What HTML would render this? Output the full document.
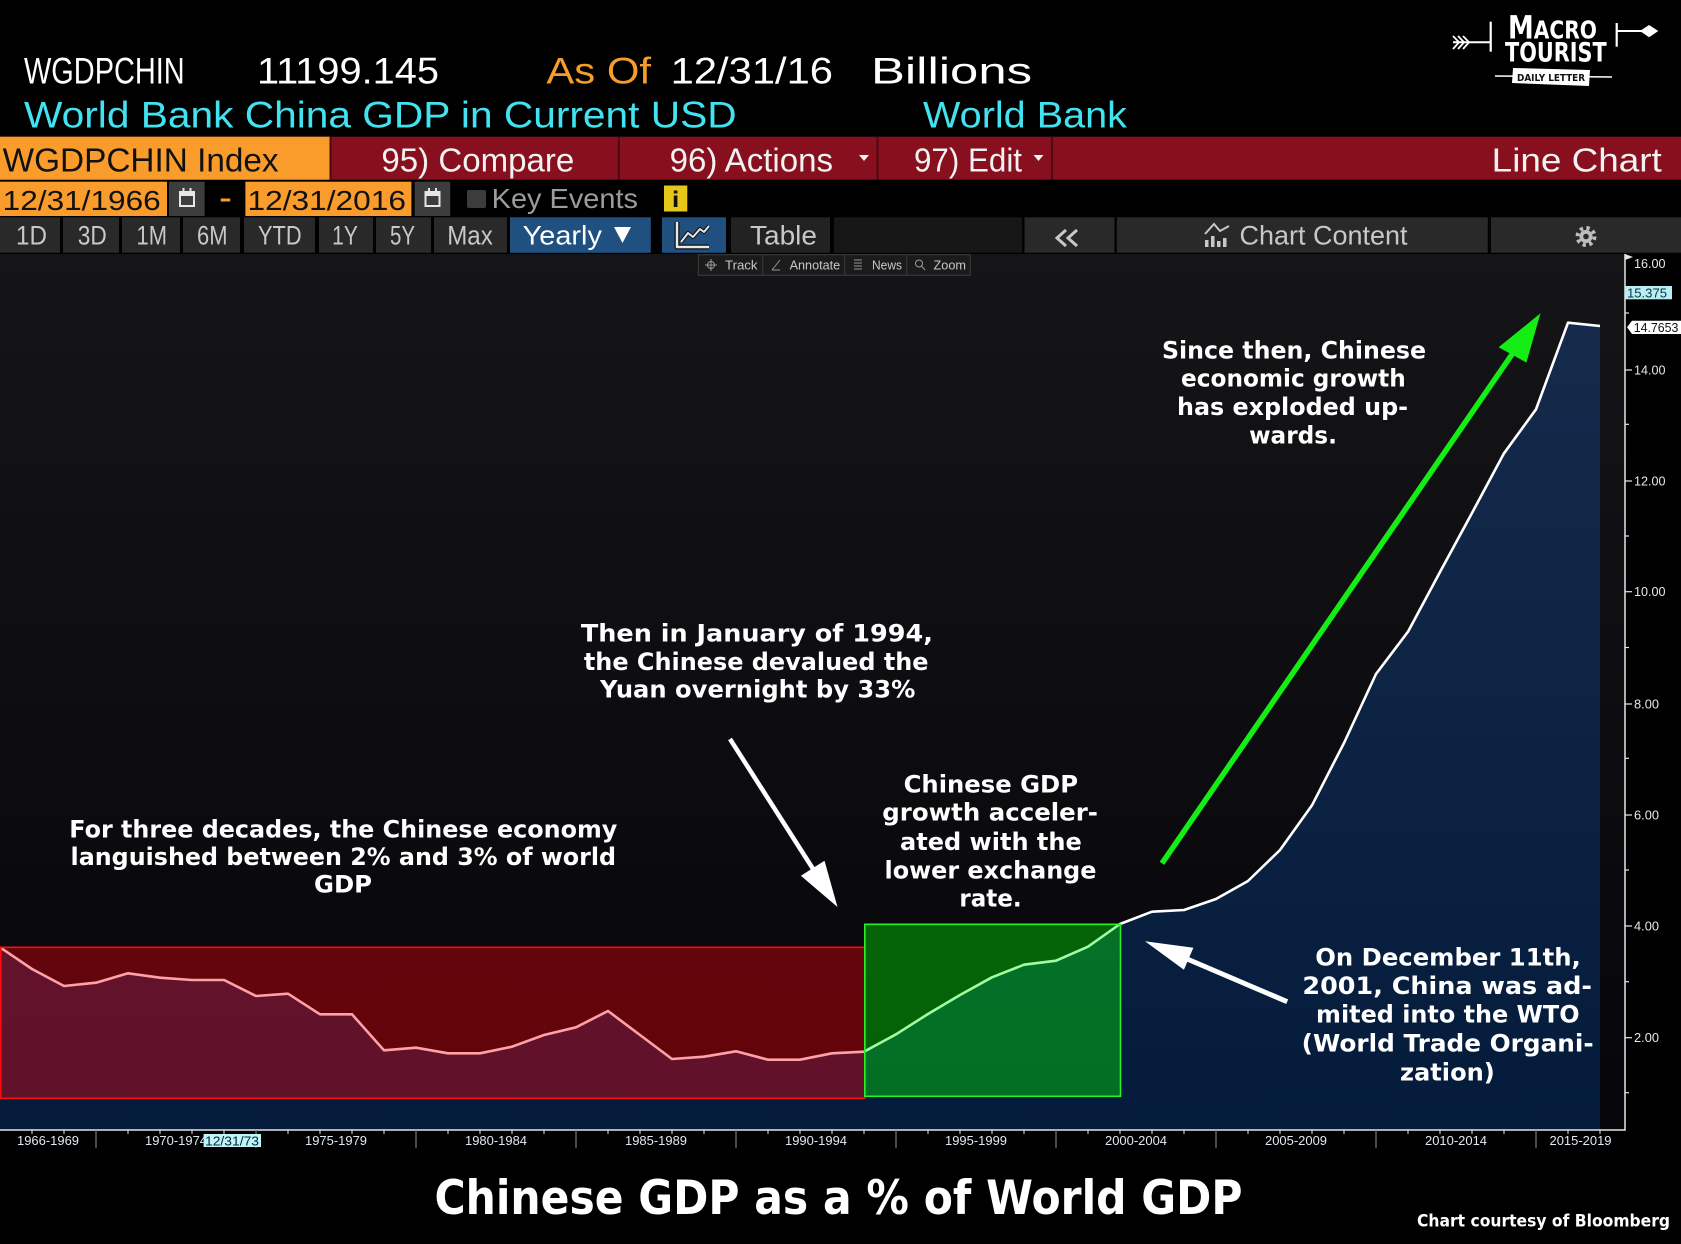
<!DOCTYPE html>
<html>
<head>
<meta charset="utf-8">
<style>
html,body{margin:0;padding:0;background:#000;}
svg{display:block;}
</style>
</head>
<body>
<svg width="1681" height="1244" viewBox="0 0 1681 1244" xmlns="http://www.w3.org/2000/svg">
<defs>
  <linearGradient id="bg" gradientUnits="userSpaceOnUse" x1="0" y1="254" x2="0" y2="1130">
    <stop offset="0" stop-color="#151518"/>
    <stop offset="1" stop-color="#06060a"/>
  </linearGradient>
  <linearGradient id="navy" gradientUnits="userSpaceOnUse" x1="0" y1="300" x2="0" y2="1130">
    <stop offset="0" stop-color="#162b4c"/>
    <stop offset="1" stop-color="#041b3b"/>
  </linearGradient>
</defs>

<rect x="0" y="0" width="1681" height="1244" fill="#000"/>

<!-- Header line 1 -->
<g font-family="Liberation Sans, Arial, sans-serif" font-size="37">
  <text x="24" y="83.5" fill="#ffffff" textLength="160.7" lengthAdjust="spacingAndGlyphs">WGDPCHIN</text>
  <text x="257" y="83.5" fill="#ffffff" textLength="182" lengthAdjust="spacingAndGlyphs">11199.145</text>
  <text x="546.4" y="83.5" fill="#f59d2c" textLength="104.6" lengthAdjust="spacingAndGlyphs">As Of</text>
  <text x="670.7" y="83.5" fill="#ffffff" textLength="162.3" lengthAdjust="spacingAndGlyphs">12/31/16</text>
  <text x="871" y="83.5" fill="#ffffff" textLength="161" lengthAdjust="spacingAndGlyphs">Billions</text>
  <text x="24" y="127.5" fill="#43e2f0" textLength="712.6" lengthAdjust="spacingAndGlyphs">World Bank China GDP in Current USD</text>
  <text x="923" y="127.5" fill="#43e2f0" textLength="204" lengthAdjust="spacingAndGlyphs">World Bank</text>
</g>

<!-- Logo -->
<g fill="#fff" stroke="none">
  <text x="1508" y="38.3" font-family="DejaVu Sans, sans-serif" font-weight="bold" textLength="89" lengthAdjust="spacingAndGlyphs"><tspan font-size="32">M</tspan><tspan font-size="25">ACRO</tspan></text>
  <text x="1505" y="61.7" font-family="DejaVu Sans, sans-serif" font-weight="bold" font-size="27" textLength="101.7" lengthAdjust="spacingAndGlyphs">TOURIST</text>
  <line x1="1495" y1="76" x2="1612" y2="77" stroke="#fff" stroke-width="1.5"/>
  <polygon points="1513,68 1590,70 1589,86 1512,83" fill="#fff"/>
  <text x="1551" y="81" text-anchor="middle" font-family="DejaVu Sans, sans-serif" font-weight="bold" font-size="9.5" fill="#111" textLength="68" lengthAdjust="spacingAndGlyphs">DAILY LETTER</text>
  <line x1="1453" y1="42.3" x2="1490" y2="42.3" stroke="#fff" stroke-width="2"/>
  <polyline points="1453,36 1459,42.3 1453,49" fill="none" stroke="#fff" stroke-width="1.8"/>
  <polyline points="1458,36 1464,42.3 1458,49" fill="none" stroke="#fff" stroke-width="1.8"/>
  <polyline points="1463,36 1469,42.3 1463,49" fill="none" stroke="#fff" stroke-width="1.8"/>
  <line x1="1490.7" y1="21.7" x2="1490.7" y2="51.7" stroke="#fff" stroke-width="2.2"/>
  <line x1="1616.7" y1="23" x2="1616.7" y2="46.7" stroke="#fff" stroke-width="2.2"/>
  <line x1="1616.7" y1="31" x2="1642" y2="31" stroke="#fff" stroke-width="2"/>
  <polygon points="1640,31 1649,25 1658.3,31 1649,37.3" fill="#fff"/>
</g>

<!-- Red bar -->
<rect x="0" y="136.7" width="1681" height="43" fill="#880f1e"/>
<rect x="0" y="136.7" width="329.5" height="43" fill="#fa9c2c"/>
<g stroke="#4e0810" stroke-width="2">
  <line x1="330.5" y1="136.7" x2="330.5" y2="179.7"/>
  <line x1="618.8" y1="136.7" x2="618.8" y2="179.7"/>
  <line x1="877.5" y1="136.7" x2="877.5" y2="179.7"/>
  <line x1="1051.9" y1="136.7" x2="1051.9" y2="179.7"/>
</g>
<g font-family="Liberation Sans, Arial, sans-serif" font-size="33">
  <text x="2.7" y="171.7" fill="#111" textLength="275.9" lengthAdjust="spacingAndGlyphs">WGDPCHIN Index</text>
  <text x="381.4" y="171.7" fill="#f2f2f2" textLength="192.9" lengthAdjust="spacingAndGlyphs">95) Compare</text>
  <text x="669.6" y="171.7" fill="#f2f2f2" textLength="163.4" lengthAdjust="spacingAndGlyphs">96) Actions</text>
  <text x="914" y="171.7" fill="#f2f2f2" textLength="108" lengthAdjust="spacingAndGlyphs">97) Edit</text>
  <text x="1491.7" y="171.7" fill="#f2f2f2" textLength="170.1" lengthAdjust="spacingAndGlyphs">Line Chart</text>
</g>
<polygon points="859,155 869,155 864,161" fill="#f2f2f2"/>
<polygon points="1033.5,155 1043.5,155 1038.5,161" fill="#f2f2f2"/>

<!-- Row 3: dates -->
<rect x="0" y="181.7" width="167" height="34.3" fill="#fa9c2c"/>
<rect x="245.4" y="181.7" width="166" height="34.3" fill="#fa9c2c"/>
<rect x="169" y="181.7" width="35.6" height="34.3" fill="#3d3d3d"/>
<rect x="414.6" y="181.7" width="35.6" height="34.3" fill="#3d3d3d"/>
<g fill="none" stroke="#e6e6e6" stroke-width="2">
  <rect x="180" y="192" width="14" height="14"/>
  <rect x="425.5" y="192" width="14" height="14"/>
</g>
<g fill="#e6e6e6">
  <rect x="180" y="192" width="14" height="4"/>
  <rect x="425.5" y="192" width="14" height="4"/>
  <rect x="182.5" y="188" width="2" height="5"/><rect x="189.5" y="188" width="2" height="5"/>
  <rect x="428" y="188" width="2" height="5"/><rect x="435" y="188" width="2" height="5"/>
</g>
<g font-family="Liberation Sans, Arial, sans-serif" font-size="28">
  <text x="2.7" y="210" fill="#111" textLength="158" lengthAdjust="spacingAndGlyphs">12/31/1966</text>
  <text x="247.5" y="210" fill="#111" textLength="158.5" lengthAdjust="spacingAndGlyphs">12/31/2016</text>
  <text x="491.7" y="208" fill="#9c9c9c" textLength="146.3" lengthAdjust="spacingAndGlyphs">Key Events</text>
</g>
<rect x="220.7" y="198.5" width="9.5" height="3" fill="#fa9c2c"/>
<rect x="467" y="190" width="19" height="18" rx="2" fill="#3c3c3c"/>
<rect x="664" y="185.5" width="23.3" height="26" fill="#e6c619"/>
<text x="675.6" y="207" text-anchor="middle" font-family="DejaVu Sans, sans-serif" font-weight="bold" font-size="21" fill="#111">i</text>

<!-- Row 4: buttons -->
<g fill="#292929">
  <rect x="0" y="217.3" width="60" height="35.5"/>
  <rect x="63" y="217.3" width="56" height="35.5"/>
  <rect x="122" y="217.3" width="58" height="35.5"/>
  <rect x="183" y="217.3" width="57" height="35.5"/>
  <rect x="244" y="217.3" width="71" height="35.5"/>
  <rect x="319" y="217.3" width="54" height="35.5"/>
  <rect x="376" y="217.3" width="55" height="35.5"/>
  <rect x="434" y="217.3" width="73" height="35.5"/>
  <rect x="731" y="217.3" width="99" height="35.5" fill="#222"/>
  <rect x="834" y="217.3" width="188" height="35.5" fill="#171717"/>
  <rect x="1024.5" y="217.3" width="90" height="35.5"/>
  <rect x="1116.8" y="217.3" width="371" height="35.5"/>
  <rect x="1491" y="217.3" width="190" height="35.5"/>
</g>
<rect x="510" y="217.3" width="140.8" height="35.5" fill="#205080"/>
<rect x="662" y="217.3" width="64" height="35.5" fill="#205080"/>
<g font-family="Liberation Sans, Arial, sans-serif" font-size="27" fill="#c8c8c8" text-anchor="middle">
  <text x="31.5" y="244.7" textLength="31" lengthAdjust="spacingAndGlyphs">1D</text>
  <text x="92.3" y="244.7" textLength="29" lengthAdjust="spacingAndGlyphs">3D</text>
  <text x="151.8" y="244.7" textLength="30.5" lengthAdjust="spacingAndGlyphs">1M</text>
  <text x="212.3" y="244.7" textLength="30.5" lengthAdjust="spacingAndGlyphs">6M</text>
  <text x="279.8" y="244.7" textLength="43.6" lengthAdjust="spacingAndGlyphs">YTD</text>
  <text x="345" y="244.7" textLength="25.7" lengthAdjust="spacingAndGlyphs">1Y</text>
  <text x="402.5" y="244.7" textLength="25" lengthAdjust="spacingAndGlyphs">5Y</text>
  <text x="470" y="244.7" textLength="45.5" lengthAdjust="spacingAndGlyphs">Max</text>
  <text x="783.5" y="244.7" textLength="67" lengthAdjust="spacingAndGlyphs">Table</text>
  <text x="1323.5" y="244.7" textLength="167.9" lengthAdjust="spacingAndGlyphs">Chart Content</text>
</g>
<text x="522.7" y="244.7" font-family="Liberation Sans, Arial, sans-serif" font-size="27" fill="#ffffff" textLength="79.2" lengthAdjust="spacingAndGlyphs">Yearly</text>
<polygon points="614,227 631,227 622.5,243" fill="#ffffff"/>
<!-- chart icon -->
<g fill="none" stroke-linejoin="round">
  <polyline points="677,222 677,247 709,247" stroke="#111" stroke-width="5"/>
  <polyline points="677,222 677,247 709,247" stroke="#e8e8e8" stroke-width="2.5"/>
  <polyline points="681,242 688,233 693,237 700,229 704,232 709,226" stroke="#111" stroke-width="4"/>
  <polyline points="681,242 688,233 693,237 700,229 704,232 709,226" stroke="#e8e8e8" stroke-width="2"/>
</g>
<!-- « -->
<g fill="none" stroke="#c8c8c8" stroke-width="3">
  <polyline points="1066,230 1057,238 1066,246"/>
  <polyline points="1077,230 1068,238 1077,246"/>
</g>
<!-- chart content icon -->
<g fill="#c8c8c8">
  <rect x="1205" y="240" width="3.5" height="7"/>
  <rect x="1211" y="236" width="3.5" height="11"/>
  <rect x="1217" y="241" width="3.5" height="6"/>
  <rect x="1223" y="238" width="3.5" height="9"/>
</g>
<polyline points="1205,234 1214,224 1220,231 1229,226" fill="none" stroke="#c8c8c8" stroke-width="2"/>
<!-- gear -->
<circle cx="1586" cy="236.5" r="8.5" fill="none" stroke="#bdbdbd" stroke-width="4" stroke-dasharray="3.3 3.4"/>
<circle cx="1586" cy="236.5" r="6.5" fill="#bdbdbd"/>
<circle cx="1586" cy="236.5" r="2.8" fill="#292929"/>

<!-- Chart background -->
<rect x="0" y="254" width="1625" height="876" fill="url(#bg)"/>

<!-- Toolbar -->
<rect x="698.3" y="254.7" width="272" height="20.6" fill="#1b1b1b" stroke="#3c3c3c" stroke-width="1"/>
<g stroke="#3c3c3c" stroke-width="1">
  <line x1="762.7" y1="255" x2="762.7" y2="275"/>
  <line x1="844.7" y1="255" x2="844.7" y2="275"/>
  <line x1="906.7" y1="255" x2="906.7" y2="275"/>
</g>
<g font-family="Liberation Sans, Arial, sans-serif" font-size="13" fill="#c8c8c8">
  <text x="725" y="269.5" textLength="32.5" lengthAdjust="spacingAndGlyphs">Track</text>
  <text x="789.6" y="269.5" textLength="50.6" lengthAdjust="spacingAndGlyphs">Annotate</text>
  <text x="872" y="269.5" textLength="30" lengthAdjust="spacingAndGlyphs">News</text>
  <text x="933.5" y="269.5" textLength="32.5" lengthAdjust="spacingAndGlyphs">Zoom</text>
</g>
<g stroke="#9a9a9a" stroke-width="1" fill="none">
  <circle cx="711" cy="265" r="3.5"/>
  <line x1="705" y1="265" x2="717" y2="265"/><line x1="711" y1="259" x2="711" y2="271"/>
  <line x1="772" y1="270" x2="780" y2="260"/><line x1="772" y1="270" x2="780" y2="270"/>
  <line x1="854" y1="260" x2="862" y2="260"/><line x1="854" y1="263" x2="862" y2="263"/>
  <line x1="854" y1="266" x2="862" y2="266"/><line x1="854" y1="269" x2="862" y2="269"/>
  <circle cx="919" cy="263.5" r="3.5"/><line x1="921.5" y1="266" x2="925" y2="270"/>
</g>

<!-- Data area fill -->
<polygon fill="url(#navy)" points="0,947.3 32,969 64,986 96,982.7 128,973.3 160,977.7 192,980 224,980 256,996 288,993.7 320,1014.3 352,1014.3 384,1050.3 416,1047.7 448,1053.3 480,1053.3 512,1046.7 544,1035 576,1027.3 608,1011 640,1035 672,1059 704,1056.7 736,1051.3 768,1059.7 800,1059.7 832,1053.3 864,1051.7 896,1034.3 928,1014 960,995 992,977.3 1024,964.7 1056,960.7 1088,946.7 1120,924 1152,911.7 1184,910 1216,899 1248,881 1280,850 1312,805.3 1344,743 1376,674 1408,631.7 1440,572 1472,513 1504,453.3 1536,409.3 1568,322.7 1600,326 1600,1130 0,1130"/>
<polyline fill="none" stroke="#ffffff" stroke-width="2.6" stroke-linejoin="round" points="0,947.3 32,969 64,986 96,982.7 128,973.3 160,977.7 192,980 224,980 256,996 288,993.7 320,1014.3 352,1014.3 384,1050.3 416,1047.7 448,1053.3 480,1053.3 512,1046.7 544,1035 576,1027.3 608,1011 640,1035 672,1059 704,1056.7 736,1051.3 768,1059.7 800,1059.7 832,1053.3 864,1051.7 896,1034.3 928,1014 960,995 992,977.3 1024,964.7 1056,960.7 1088,946.7 1120,924 1152,911.7 1184,910 1216,899 1248,881 1280,850 1312,805.3 1344,743 1376,674 1408,631.7 1440,572 1472,513 1504,453.3 1536,409.3 1568,322.7 1600,326"/>

<!-- Overlays -->
<rect x="0.8" y="947.3" width="864" height="151" fill="rgb(255,0,10)" fill-opacity="0.37" stroke="#ff0a0a" stroke-width="1.6"/>
<rect x="864.8" y="924.3" width="255.7" height="172" fill="rgb(0,255,0)" fill-opacity="0.37" stroke="#2af02a" stroke-width="1.6"/>

<!-- Axes -->
<line x1="0" y1="1130" x2="1625" y2="1130" stroke="#e6e6e6" stroke-width="1.5"/>
<line x1="1625" y1="254" x2="1625" y2="1130.7" stroke="#e6e6e6" stroke-width="1.5"/>
<g stroke="#e6e6e6" stroke-width="1">
  <line x1="32" y1="1130" x2="32" y2="1134"/><line x1="64" y1="1130" x2="64" y2="1134"/>
  <line x1="128" y1="1130" x2="128" y2="1134"/><line x1="160" y1="1130" x2="160" y2="1134"/><line x1="192" y1="1130" x2="192" y2="1134"/><line x1="224" y1="1130" x2="224" y2="1134"/>
  <line x1="288" y1="1130" x2="288" y2="1134"/><line x1="320" y1="1130" x2="320" y2="1134"/><line x1="352" y1="1130" x2="352" y2="1134"/><line x1="384" y1="1130" x2="384" y2="1134"/>
  <line x1="448" y1="1130" x2="448" y2="1134"/><line x1="480" y1="1130" x2="480" y2="1134"/><line x1="512" y1="1130" x2="512" y2="1134"/><line x1="544" y1="1130" x2="544" y2="1134"/>
  <line x1="608" y1="1130" x2="608" y2="1134"/><line x1="640" y1="1130" x2="640" y2="1134"/><line x1="672" y1="1130" x2="672" y2="1134"/><line x1="704" y1="1130" x2="704" y2="1134"/>
  <line x1="768" y1="1130" x2="768" y2="1134"/><line x1="800" y1="1130" x2="800" y2="1134"/><line x1="832" y1="1130" x2="832" y2="1134"/><line x1="864" y1="1130" x2="864" y2="1134"/>
  <line x1="928" y1="1130" x2="928" y2="1134"/><line x1="960" y1="1130" x2="960" y2="1134"/><line x1="992" y1="1130" x2="992" y2="1134"/><line x1="1024" y1="1130" x2="1024" y2="1134"/>
  <line x1="1088" y1="1130" x2="1088" y2="1134"/><line x1="1120" y1="1130" x2="1120" y2="1134"/><line x1="1152" y1="1130" x2="1152" y2="1134"/><line x1="1184" y1="1130" x2="1184" y2="1134"/>
  <line x1="1248" y1="1130" x2="1248" y2="1134"/><line x1="1280" y1="1130" x2="1280" y2="1134"/><line x1="1312" y1="1130" x2="1312" y2="1134"/><line x1="1344" y1="1130" x2="1344" y2="1134"/>
  <line x1="1408" y1="1130" x2="1408" y2="1134"/><line x1="1440" y1="1130" x2="1440" y2="1134"/><line x1="1472" y1="1130" x2="1472" y2="1134"/><line x1="1504" y1="1130" x2="1504" y2="1134"/>
  <line x1="1568" y1="1130" x2="1568" y2="1134"/><line x1="1600" y1="1130" x2="1600" y2="1134"/>
</g>
<g stroke="#7a7a7a" stroke-width="1.2">
  <line x1="96" y1="1130" x2="96" y2="1148"/><line x1="256" y1="1130" x2="256" y2="1148"/><line x1="416" y1="1130" x2="416" y2="1148"/>
  <line x1="576" y1="1130" x2="576" y2="1148"/><line x1="736" y1="1130" x2="736" y2="1148"/><line x1="896" y1="1130" x2="896" y2="1148"/>
  <line x1="1056" y1="1130" x2="1056" y2="1148"/><line x1="1216" y1="1130" x2="1216" y2="1148"/><line x1="1376" y1="1130" x2="1376" y2="1148"/>
  <line x1="1536" y1="1130" x2="1536" y2="1148"/>
</g>
<g font-family="Liberation Sans, Arial, sans-serif" font-size="13" fill="#dfe7ef" text-anchor="middle">
  <text x="48" y="1145" textLength="62" lengthAdjust="spacingAndGlyphs">1966-1969</text>
  <text x="176" y="1145" textLength="62" lengthAdjust="spacingAndGlyphs">1970-1974</text>
  <text x="336" y="1145" textLength="62" lengthAdjust="spacingAndGlyphs">1975-1979</text>
  <text x="496" y="1145" textLength="62" lengthAdjust="spacingAndGlyphs">1980-1984</text>
  <text x="656" y="1145" textLength="62" lengthAdjust="spacingAndGlyphs">1985-1989</text>
  <text x="816" y="1145" textLength="62" lengthAdjust="spacingAndGlyphs">1990-1994</text>
  <text x="976" y="1145" textLength="62" lengthAdjust="spacingAndGlyphs">1995-1999</text>
  <text x="1136" y="1145" textLength="62" lengthAdjust="spacingAndGlyphs">2000-2004</text>
  <text x="1296" y="1145" textLength="62" lengthAdjust="spacingAndGlyphs">2005-2009</text>
  <text x="1456" y="1145" textLength="62" lengthAdjust="spacingAndGlyphs">2010-2014</text>
  <text x="1580.5" y="1145" textLength="62" lengthAdjust="spacingAndGlyphs">2015-2019</text>
</g>
<rect x="203.6" y="1134" width="57.4" height="13" fill="#bdf4fa"/>
<text x="205" y="1145.5" font-family="Liberation Sans, Arial, sans-serif" font-size="13" fill="#0a2433" textLength="54" lengthAdjust="spacingAndGlyphs">12/31/73</text>

<!-- Y axis ticks & labels -->
<g stroke="#e6e6e6" stroke-width="1.2">
  <line x1="1625" y1="370" x2="1632" y2="370"/><line x1="1625" y1="481" x2="1632" y2="481"/>
  <line x1="1625" y1="591.7" x2="1632" y2="591.7"/><line x1="1625" y1="704" x2="1632" y2="704"/>
  <line x1="1625" y1="815" x2="1632" y2="815"/><line x1="1625" y1="926" x2="1632" y2="926"/>
  <line x1="1625" y1="1037.7" x2="1632" y2="1037.7"/>
  <line x1="1625" y1="313" x2="1629" y2="313"/><line x1="1625" y1="424.3" x2="1629" y2="424.3"/>
  <line x1="1625" y1="536" x2="1629" y2="536"/><line x1="1625" y1="647.5" x2="1629" y2="647.5"/>
  <line x1="1625" y1="758.3" x2="1629" y2="758.3"/><line x1="1625" y1="870" x2="1629" y2="870"/>
  <line x1="1625" y1="981.7" x2="1629" y2="981.7"/><line x1="1625" y1="1092.7" x2="1629" y2="1092.7"/>
</g>
<polygon points="1625,254 1633,257 1625,260" fill="#e6e6e6"/>
<g font-family="Liberation Sans, Arial, sans-serif" font-size="13" fill="#e8e8e8">
  <text x="1634" y="268" textLength="31.5" lengthAdjust="spacingAndGlyphs">16.00</text>
  <text x="1634" y="374.5" textLength="31.5" lengthAdjust="spacingAndGlyphs">14.00</text>
  <text x="1634" y="485.5" textLength="31.5" lengthAdjust="spacingAndGlyphs">12.00</text>
  <text x="1634" y="596.2" textLength="31.5" lengthAdjust="spacingAndGlyphs">10.00</text>
  <text x="1634" y="708.5" textLength="25" lengthAdjust="spacingAndGlyphs">8.00</text>
  <text x="1634" y="819.5" textLength="25" lengthAdjust="spacingAndGlyphs">6.00</text>
  <text x="1634" y="930.5" textLength="25" lengthAdjust="spacingAndGlyphs">4.00</text>
  <text x="1634" y="1042.2" textLength="25" lengthAdjust="spacingAndGlyphs">2.00</text>
</g>
<rect x="1625" y="286" width="47" height="13.3" fill="#b6eef6"/>
<text x="1627" y="297.3" font-family="Liberation Sans, Arial, sans-serif" font-size="12.5" fill="#12303c" textLength="40" lengthAdjust="spacingAndGlyphs">15.375</text>
<polygon points="1627,327.3 1632,320.7 1681,320.7 1681,334 1632,334" fill="#ffffff"/>
<text x="1633.7" y="332" font-family="Liberation Sans, Arial, sans-serif" font-size="12.5" fill="#111" textLength="44.7" lengthAdjust="spacingAndGlyphs">14.7653</text>

<!-- Arrows -->
<line x1="730" y1="739" x2="815" y2="872" stroke="#ffffff" stroke-width="4.5"/>
<polygon points="837.5,907 824.5,860.8 800.9,875.8" fill="#ffffff"/>

<line x1="1162" y1="863.3" x2="1515" y2="350" stroke="#14ee14" stroke-width="5.5"/>
<polygon points="1540.5,313.3 1498.6,347.3 1526.4,362.5" fill="#14ee14"/>

<line x1="1287.2" y1="1001.7" x2="1186" y2="958.5" stroke="#ffffff" stroke-width="5"/>
<polygon points="1145,941.2 1193.4,947.8 1183.9,969.8" fill="#ffffff"/>

<!-- Annotations -->
<g font-family="DejaVu Sans, Verdana, sans-serif" font-weight="bold" font-size="24" fill="#ffffff" text-anchor="middle">
  <text x="343.3" y="837.5" textLength="548" lengthAdjust="spacingAndGlyphs">For three decades, the Chinese economy</text>
  <text x="343.3" y="865" textLength="545.5" lengthAdjust="spacingAndGlyphs">languished between 2% and 3% of world</text>
  <text x="343" y="892.5" textLength="58" lengthAdjust="spacingAndGlyphs">GDP</text>

  <text x="756.9" y="641.7" textLength="352" lengthAdjust="spacingAndGlyphs">Then in January of 1994,</text>
  <text x="756.2" y="670" textLength="344.7" lengthAdjust="spacingAndGlyphs">the Chinese devalued the</text>
  <text x="757.7" y="697.7" textLength="315.3" lengthAdjust="spacingAndGlyphs">Yuan overnight by 33%</text>

  <text x="990.8" y="792.7" textLength="174.4" lengthAdjust="spacingAndGlyphs">Chinese GDP</text>
  <text x="990.1" y="820.7" textLength="215.6" lengthAdjust="spacingAndGlyphs">growth acceler-</text>
  <text x="990.9" y="850" textLength="181.8" lengthAdjust="spacingAndGlyphs">ated with the</text>
  <text x="990.5" y="878.3" textLength="211.9" lengthAdjust="spacingAndGlyphs">lower exchange</text>
  <text x="990.5" y="906.7" textLength="62.3" lengthAdjust="spacingAndGlyphs">rate.</text>

  <text x="1294" y="358.3" textLength="264.1" lengthAdjust="spacingAndGlyphs">Since then, Chinese</text>
  <text x="1293.4" y="386.7" textLength="224.7" lengthAdjust="spacingAndGlyphs">economic growth</text>
  <text x="1292.5" y="415" textLength="231" lengthAdjust="spacingAndGlyphs">has exploded up-</text>
  <text x="1293" y="443.3" textLength="87.8" lengthAdjust="spacingAndGlyphs">wards.</text>

  <text x="1448" y="965.7" textLength="265.5" lengthAdjust="spacingAndGlyphs">On December 11th,</text>
  <text x="1447.2" y="994" textLength="289.6" lengthAdjust="spacingAndGlyphs">2001, China was ad-</text>
  <text x="1447.8" y="1022.7" textLength="263.5" lengthAdjust="spacingAndGlyphs">mited into the WTO</text>
  <text x="1447.7" y="1051.7" textLength="292" lengthAdjust="spacingAndGlyphs">(World Trade Organi-</text>
  <text x="1447.4" y="1080.7" textLength="94.8" lengthAdjust="spacingAndGlyphs">zation)</text>
</g>

<!-- Bottom title -->
<text x="434.5" y="1214" font-family="DejaVu Sans, Verdana, sans-serif" font-weight="bold" font-size="47" fill="#ffffff" textLength="808" lengthAdjust="spacingAndGlyphs">Chinese GDP as a % of World GDP</text>
<text x="1417" y="1226.5" font-family="DejaVu Sans, Verdana, sans-serif" font-weight="bold" font-size="16.5" fill="#ffffff" textLength="253" lengthAdjust="spacingAndGlyphs">Chart courtesy of Bloomberg</text>
</svg>
</body>
</html>
